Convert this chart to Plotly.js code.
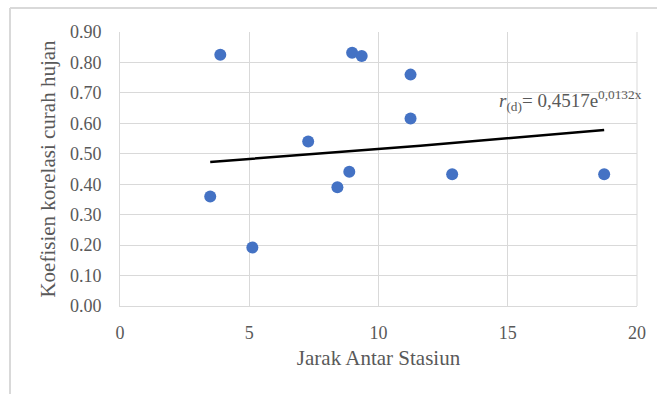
<!DOCTYPE html>
<html>
<head>
<meta charset="utf-8">
<script src="https://cdn.plot.ly/plotly-3.0.1.min.js"></script>
<style>
html,body{margin:0;padding:0;background:#fff;}
#chart{width:657px;height:394px;}
</style>
</head>
<body>
<div id="chart"></div>
<script>
// Observed points (Jarak Antar Stasiun vs Koefisien korelasi)
const jarak = [3.88, 3.49, 5.12, 7.28, 8.98, 9.35, 11.24, 11.24, 8.87, 8.41, 12.85, 18.73];
const korelasi = [0.825, 0.36, 0.192, 0.54, 0.832, 0.821, 0.76, 0.616, 0.441, 0.39, 0.433, 0.433];

// Exponential trendline coefficients (from the chart equation)
const trendA = 0.4517;
const trendB = 0.0132;

const xTicks = [0, 5, 10, 15, 20];
const yTicks = [0, 0.1, 0.2, 0.3, 0.4, 0.5, 0.6, 0.7, 0.8, 0.9];

const xMin = Math.min(...jarak), xMax = Math.max(...jarak);
const trendX = [], trendY = [];
for (let i = 0; i <= 30; i++) {
  const x = xMin + (xMax - xMin) * i / 30;
  trendX.push(x);
  trendY.push(trendA * Math.exp(trendB * x));
}

const font = 'Liberation Serif';
const grey = '#595959';
const grid = '#d9d9d9';

const traces = [
  {x: trendX, y: trendY, mode: 'lines', line: {color: '#000000', width: 2.5}, hoverinfo: 'skip', showlegend: false},
  {x: jarak, y: korelasi, mode: 'markers', marker: {color: '#4472C4', size: 12}, showlegend: false}
];

const L = 120, R = 20, T = 32, B = 88, W = 657, H = 394;
const pw = W - L - R, ph = H - T - B;
const px = p => (p - L) / pw;
const py = p => (H - B - p) / ph;

const layout = {
  width: W, height: H,
  margin: {l: L, r: R, t: T, b: B},
  paper_bgcolor: '#ffffff', plot_bgcolor: '#ffffff',
  font: {family: font, color: grey, size: 18},
  xaxis: {
    range: [0, 20], tickvals: xTicks, ticktext: xTicks.map(String),
    showgrid: true, gridcolor: grid, gridwidth: 1,
    showline: true, linecolor: grid, linewidth: 1, mirror: false,
    zeroline: false, ticks: '', ticklabelstandoff: 10,
    tickfont: {family: font, size: 18, color: grey},
    title: {text: 'Jarak Antar Stasiun', font: {family: font, size: 21, color: grey}, standoff: 8}
  },
  yaxis: {
    range: [0, 0.9], tickvals: yTicks, ticktext: yTicks.map(v => v.toFixed(2)),
    showgrid: true, gridcolor: grid, gridwidth: 1,
    showline: true, linecolor: grid, linewidth: 1,
    zeroline: false, ticks: '', ticklabelstandoff: 14,
    tickfont: {family: font, size: 18, color: grey},
    title: {text: 'Koefisien korelasi curah hujan', font: {family: font, size: 21, color: grey}, standoff: 8}
  },
  shapes: [
    {type: 'line', xref: 'paper', yref: 'paper', x0: 1, x1: 1, y0: 0, y1: 1, line: {color: grid, width: 1}},
    {type: 'line', xref: 'paper', yref: 'paper', x0: px(10), x1: px(657), y0: py(8), y1: py(8), line: {color: grid, width: 2}},
    {type: 'line', xref: 'paper', yref: 'paper', x0: px(10), x1: px(10), y0: py(8), y1: py(394), line: {color: grid, width: 2}}
  ],
  annotations: [
    {x: 14.6, y: 0.675, xref: 'x', yref: 'y', xanchor: 'left', yanchor: 'middle', showarrow: false,
     text: '<i>r</i><sub>(d)</sub>= 0,4517e<sup>0,0132x</sup>', font: {family: font, size: 19, color: grey}}
  ]
};

Plotly.newPlot('chart', traces, layout, {displayModeBar: false, staticPlot: true});
</script>
</body>
</html>
